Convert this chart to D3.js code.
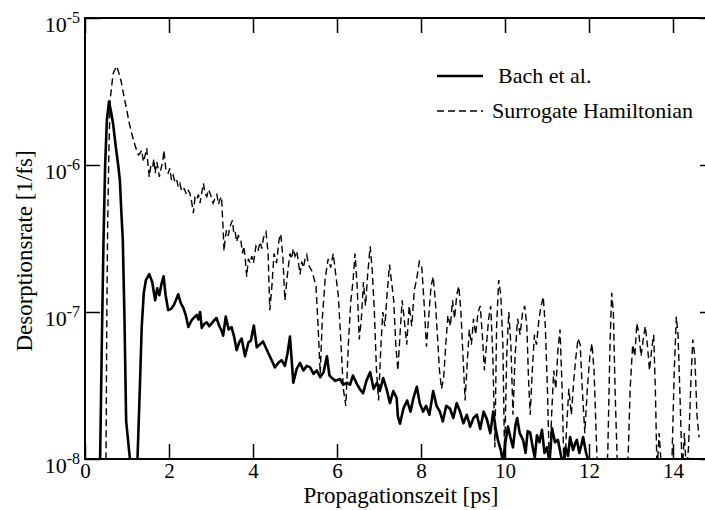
<!DOCTYPE html>
<html lang="en">
<head>
<meta charset="UTF-8">
<title>Desorptionsrate</title>
<script src="https://d3js.org/d3.v7.min.js"></script>
<style>
  body { margin: 0; background: #fff; }
  svg { display: block; }
  svg text { font-family: "Liberation Serif", "Times New Roman", serif; }
</style>
</head>
<body>
<svg></svg>
<script>
// Bach et al. (solid)
const bachTime = [0.36, 0.40, 0.44, 0.48, 0.52, 0.57, 0.62, 0.67, 0.73, 0.79, 0.83, 0.87, 0.90, 0.94, 0.98, 1.07, 1.15,
  1.25, 1.31, 1.35, 1.40, 1.45, 1.53, 1.60, 1.67, 1.72, 1.77, 1.82, 1.87, 1.92, 1.98, 2.05, 2.12, 2.22, 2.28, 2.34, 2.40,
  2.46, 2.54, 2.60, 2.66, 2.70, 2.74, 2.78, 2.84, 2.90, 2.96, 3.02, 3.08, 3.13, 3.20, 3.25, 3.29, 3.35, 3.42, 3.49, 3.55,
  3.61, 3.67, 3.73, 3.81, 3.89, 3.95, 4.02, 4.09, 4.16, 4.24, 4.32, 4.40, 4.46, 4.52, 4.60, 4.68, 4.76, 4.82, 4.88, 4.96,
  5.04, 5.12, 5.20, 5.28, 5.36, 5.44, 5.52, 5.60, 5.68, 5.76, 5.82, 5.88, 5.96, 6.07, 6.15, 6.24, 6.31, 6.38, 6.46, 6.54,
  6.62, 6.70, 6.79, 6.87, 6.95, 7.02, 7.10, 7.18, 7.26, 7.34, 7.42, 7.45, 7.50, 7.58, 7.67, 7.75, 7.82, 7.90, 7.97, 8.05,
  8.12, 8.20, 8.29, 8.37, 8.45, 8.52, 8.60, 8.69, 8.77, 8.85, 8.93, 9.01, 9.09, 9.17, 9.25, 9.33, 9.41, 9.49, 9.57, 9.65,
  9.72, 9.78, 9.83, 9.90, 9.95, 10.01, 10.07, 10.13, 10.19, 10.25, 10.29, 10.35, 10.43, 10.49, 10.54, 10.60, 10.66, 10.71,
  10.76, 10.82, 10.88, 10.94, 11.00, 11.06, 11.12, 11.19, 11.26, 11.32, 11.38, 11.44, 11.50, 11.55, 11.62, 11.68, 11.71,
  11.77, 11.82, 11.86, 11.93, 12.02];
const bachRate = [1.0e-8, 6e-8, 3.0e-7, 1.0e-6, 2.0e-6, 2.7e-6, 2.3e-6, 1.9e-6, 1.35e-6, 1.0e-6, 7.9e-7, 4.5e-7, 3.1e-7, 9e-8, 1.8e-8, 1.0e-8, 3e-9,
  1.0e-8, 3.3e-8, 7.9e-8, 1.35e-7, 1.65e-7, 1.81e-7, 1.6e-7, 1.2e-7, 1.45e-7, 1.3e-7, 1.55e-7, 1.75e-7, 1.3e-7, 1.03e-7, 1.05e-7, 1.12e-7, 1.32e-7, 1.15e-7, 1.07e-7, 9.5e-8,
  7.9e-8, 8.8e-8, 9.2e-8, 9.55e-8, 8.9e-8, 1.0e-7, 7.8e-8, 8.3e-8, 8.5e-8, 8.0e-8, 8.4e-8, 8.8e-8, 9.1e-8, 8.0e-8, 7.5e-8, 6.9e-8, 9.3e-8, 7.6e-8, 7.9e-8, 6.8e-8,
  5.5e-8, 6.2e-8, 6.6e-8, 5.0e-8, 6.2e-8, 6.4e-8, 8.1e-8, 5.75e-8, 6.0e-8, 6.3e-8, 5.6e-8, 5.0e-8, 4.6e-8, 4.2e-8, 4.5e-8, 4.7e-8, 4.3e-8, 5.2e-8, 6.8e-8, 3.3e-8,
  4.1e-8, 4.5e-8, 4.0e-8, 4.3e-8, 4.2e-8, 3.8e-8, 4.0e-8, 3.6e-8, 3.9e-8, 5.0e-8, 3.7e-8, 3.55e-8, 3.4e-8, 3.5e-8, 3.2e-8, 3.3e-8, 3.2e-8, 3.7e-8, 3.3e-8, 3.0e-8,
  2.8e-8, 3.4e-8, 3.9e-8, 3.0e-8, 3.3e-8, 2.9e-8, 3.55e-8, 3.0e-8, 2.4e-8, 2.9e-8, 2.6e-8, 1.95e-8, 1.74e-8, 2.2e-8, 2.5e-8, 2.1e-8, 2.6e-8, 3.1e-8, 2.4e-8, 2.1e-8,
  2.3e-8, 2.0e-8, 2.9e-8, 2.3e-8, 2.1e-8, 1.8e-8, 2.3e-8, 2.2e-8, 1.9e-8, 2.4e-8, 2.1e-8, 1.75e-8, 2.0e-8, 1.66e-8, 1.9e-8, 2.0e-8, 1.6e-8, 2.1e-8, 1.86e-8, 1.5e-8,
  2.1e-8, 1.6e-8, 1.35e-8, 1.15e-8, 9.5e-9, 1.3e-8, 1.66e-8, 1.4e-8, 1.2e-8, 1.7e-8, 1.9e-8, 1.5e-8, 1.35e-8, 1.1e-8, 1.55e-8, 1.51e-8, 1.2e-8, 1.02e-8,
  1.45e-8, 1.3e-8, 1.58e-8, 1.1e-8, 1.2e-8, 9.5e-9, 1.62e-8, 1.3e-8, 1.35e-8, 1.1e-8, 9.0e-9, 1.2e-8, 1.05e-8, 1.41e-8, 1.15e-8, 1.3e-8, 1.35e-8,
  1.1e-8, 1.25e-8, 1.41e-8, 1.1e-8, 9.0e-9];

// Surrogate Hamiltonian (dashed)
const shTime = [0.48, 0.50, 0.52, 0.54, 0.57, 0.60, 0.67, 0.75, 0.81, 0.87, 0.93, 0.99, 1.05, 1.11, 1.17, 1.23, 1.27, 1.31,
  1.35, 1.39, 1.43, 1.47, 1.50, 1.53, 1.57, 1.61, 1.64, 1.67, 1.71, 1.74, 1.77, 1.82, 1.85, 1.88, 1.93, 1.98, 2.02, 2.06,
  2.10, 2.14, 2.18, 2.22, 2.26, 2.30, 2.36, 2.42, 2.46, 2.50, 2.54, 2.58, 2.62, 2.66, 2.70, 2.74, 2.78, 2.82, 2.86, 2.90,
  2.94, 2.98, 3.02, 3.05, 3.10, 3.14, 3.18, 3.21, 3.25, 3.29, 3.31, 3.34, 3.37, 3.41, 3.45, 3.51, 3.54, 3.57, 3.61, 3.65,
  3.71, 3.75, 3.78, 3.81, 3.85, 3.89, 3.93, 3.97, 4.01, 4.07, 4.12, 4.17, 4.21, 4.25, 4.31, 4.36, 4.40, 4.45, 4.50, 4.56,
  4.62, 4.66, 4.71, 4.76, 4.82, 4.88, 4.92, 4.96, 5.00, 5.04, 5.08, 5.12, 5.16, 5.20, 5.24, 5.28, 5.32, 5.36, 5.40, 5.44,
  5.50, 5.55, 5.60, 5.65, 5.72, 5.79, 5.85, 5.91, 5.97, 6.03, 6.09, 6.15, 6.21, 6.27, 6.33, 6.38, 6.43, 6.48, 6.53, 6.58,
  6.63, 6.68, 6.73, 6.79, 6.84, 6.89, 6.94, 6.99, 7.04, 7.09, 7.14, 7.19, 7.25, 7.30, 7.35, 7.40, 7.45, 7.50, 7.55, 7.60,
  7.66, 7.72, 7.78, 7.84, 7.90, 7.96, 8.02, 8.07, 8.13, 8.18, 8.24, 8.29, 8.34, 8.39, 8.44, 8.49, 8.54, 8.59, 8.64, 8.70,
  8.75, 8.80, 8.85, 8.90, 8.95, 9.00, 9.05, 9.10, 9.15, 9.20, 9.25, 9.30, 9.36, 9.41, 9.46, 9.51, 9.56, 9.61, 9.66, 9.71,
  9.76, 9.80, 9.85, 9.90, 9.95, 9.99, 10.04, 10.09, 10.14, 10.19, 10.24, 10.30, 10.36, 10.42, 10.47, 10.52, 10.56, 10.60,
  10.65, 10.70, 10.75, 10.81, 10.86, 10.91, 10.96, 11.01, 11.06, 11.11, 11.16, 11.21, 11.26, 11.31, 11.36, 11.41, 11.46,
  11.52, 11.58, 11.64, 11.69, 11.74, 11.79, 11.84, 11.90, 11.96, 12.02, 12.07, 12.12, 12.17, 12.22, 12.28, 12.33, 12.40,
  12.45, 12.50, 12.54, 12.58, 12.62, 12.67, 12.73, 12.80, 12.88, 12.93, 12.98, 13.04, 13.09, 13.14, 13.19, 13.24, 13.29,
  13.34, 13.39, 13.44, 13.49, 13.54, 13.58, 13.62, 13.67, 13.72, 13.77, 13.85, 13.92, 13.98, 14.03, 14.08, 14.12, 14.17,
  14.22, 14.27, 14.32, 14.37, 14.42, 14.47, 14.52, 14.57, 14.62];
const shRate = [5e-9, 1.0e-8, 1.0e-7, 4.0e-7, 1.3e-6, 2.8e-6, 4.2e-6, 4.7e-6, 4.2e-6, 3.6e-6, 2.9e-6, 2.4e-6, 1.95e-6, 1.65e-6, 1.42e-6, 1.26e-6, 1.17e-6, 1.2e-6,
  1.26e-6, 1.05e-6, 1.16e-6, 1.3e-6, 1.0e-6, 8.3e-7, 1.0e-6, 9.7e-7, 1.1e-6, 8.8e-7, 1.05e-6, 9.5e-7, 8.3e-7, 9.7e-7, 1.05e-6, 1.26e-6, 9.0e-7, 8.8e-7, 9.5e-7, 7.9e-7,
  8.5e-7, 7.7e-7, 8.0e-7, 7.1e-7, 7.5e-7, 6.6e-7, 6.9e-7, 6.3e-7, 6.7e-7, 6.4e-7, 5.6e-7, 4.7e-7, 6.0e-7, 5.8e-7, 6.3e-7, 5.5e-7, 6.5e-7, 7.5e-7, 6.4e-7, 6.1e-7,
  6.8e-7, 6.4e-7, 5.9e-7, 5.5e-7, 6.0e-7, 6.3e-7, 5.4e-7, 5.8e-7, 6.1e-7, 3.6e-7, 2.6e-7, 3.2e-7, 3.6e-7, 3.3e-7, 3.8e-7, 4.2e-7, 3.5e-7, 3.6e-7, 3.0e-7, 3.3e-7,
  3.1e-7, 2.5e-7, 2.8e-7, 2.4e-7, 1.74e-7, 2.3e-7, 2.15e-7, 2.4e-7, 2.15e-7, 2.8e-7, 2.6e-7, 3.0e-7, 2.7e-7, 3.2e-7, 3.5e-7, 2.5e-7, 1.03e-7, 1.5e-7, 2.5e-7, 2.15e-7,
  3.1e-7, 3.4e-7, 2.4e-7, 1.2e-7, 1.8e-7, 2.5e-7, 2.3e-7, 2.7e-7, 2.4e-7, 2.6e-7, 2.2e-7, 1.8e-7, 2.2e-7, 2.0e-7, 2.3e-7, 2.45e-7, 2.1e-7, 2.0e-7, 1.9e-7, 1.74e-7,
  1.5e-7, 8.0e-8, 3.8e-8, 9.0e-8, 1.7e-7, 2.3e-7, 2.0e-7, 2.5e-7, 1.8e-7, 1.3e-7, 6.5e-8, 3.0e-8, 2.3e-8, 6.0e-8, 1.2e-7, 1.6e-7, 2.5e-7, 1.5e-7, 6.5e-8, 9.0e-8,
  1.6e-7, 1.1e-7, 1.8e-7, 2.8e-7, 1.9e-7, 1.0e-7, 4.0e-8, 2.5e-8, 5.5e-8, 1.0e-7, 8.0e-8, 1.3e-7, 2.1e-7, 1.6e-7, 1.2e-7, 6.0e-8, 4.0e-8, 7.0e-8, 1.2e-7, 9.0e-8,
  6.0e-8, 1.1e-7, 8.0e-8, 1.4e-7, 1.7e-7, 2.2e-7, 2.0e-7, 1.2e-7, 5.8e-8, 9.0e-8, 1.5e-7, 1.74e-7, 1.2e-7, 7.0e-8, 4.0e-8, 3.0e-8, 3.6e-8, 6.0e-8, 9.5e-8, 8.0e-8,
  1.2e-7, 9.0e-8, 1.3e-7, 1.5e-7, 1.0e-7, 5.0e-8, 2.5e-8, 4.5e-8, 7.6e-8, 6.0e-8, 9.0e-8, 7.0e-8, 1.0e-7, 1.1e-7, 7.0e-8, 4.0e-8, 6.0e-8, 9.0e-8, 1.1e-7, 5.0e-8,
  1.2e-8, 8.0e-8, 1.65e-7, 1.3e-7, 6.0e-8, 1.0e-8, 5.0e-8, 1.0e-7, 6.0e-8, 2.0e-8, 5.0e-8, 9.0e-8, 7.0e-8, 1.0e-7, 1.1e-7, 8.0e-8, 3.5e-8, 2.0e-8,
  4.0e-8, 7.0e-8, 6.0e-8, 9.0e-8, 1.1e-7, 1.27e-7, 8.0e-8, 3.0e-8, 8.0e-9, 2.0e-8, 4.0e-8, 3.0e-8, 5.5e-8, 7.6e-8, 3.0e-8, 7.0e-9, 1.5e-8,
  3.0e-8, 2.0e-8, 3.5e-8, 5.0e-8, 6.6e-8, 6.0e-8, 3.0e-8, 1.5e-8, 3.0e-8, 5.0e-8, 6.1e-8, 4.0e-8, 1.5e-8, 6.0e-9, 1.0e-8, 3.0e-9, 5.0e-9,
  1.2e-8, 6.0e-8, 1.35e-7, 1.0e-7, 3.0e-8, 1.0e-8, 4.0e-9, 3.0e-9, 4.0e-9, 1.0e-8, 3.0e-8, 6.0e-8, 5.0e-8, 8.4e-8, 7.0e-8, 5.0e-8, 6.5e-8,
  8.0e-8, 6.0e-8, 4.0e-8, 5.5e-8, 7.0e-8, 3.0e-8, 8.0e-9, 1.5e-8, 9.0e-9, 4.0e-9, 3.0e-9, 5.0e-9, 1.1e-8, 4.0e-8, 9.3e-8, 7.0e-8, 2.5e-8,
  8.0e-9, 1.5e-8, 8.0e-9, 1.2e-8, 3.0e-8, 6.5e-8, 5.0e-8, 2.0e-8, 1.4e-8];

const xTicks = [0, 2, 4, 6, 8, 10, 12, 14];
const yTicks = [1e-8, 1e-7, 1e-6, 1e-5];
const seriesNames = ["Bach et al.", "Surrogate Hamiltonian"];

const serif = "Liberation Serif, Times New Roman, serif";
const width = 705, height = 510;
const plotLeft = 85, plotTop = 18, plotRight = 715, plotBottom = 459;

const svg = d3.select("svg").attr("width", width).attr("height", height)
  .attr("font-family", serif);

const x = d3.scaleLinear().domain([0, 15]).range([plotLeft, plotRight]);
const y = d3.scaleLog().domain([1e-8, 1e-5]).range([plotBottom, plotTop]);

svg.append("clipPath").attr("id", "plot")
  .append("rect")
  .attr("x", plotLeft).attr("y", plotTop)
  .attr("width", plotRight - plotLeft).attr("height", plotBottom - plotTop);

// curves
const line = d3.line().x(d => x(d[0])).y(d => y(d[1]));
const bach = bachTime.map((t, i) => [t, bachRate[i]]);
const sh = shTime.map((t, i) => [t, shRate[i]]);

const lines = svg.append("g").attr("clip-path", "url(#plot)");
lines.append("path").datum(sh)
  .attr("d", line)
  .attr("fill", "none").attr("stroke", "#000")
  .attr("stroke-width", 1.4).attr("stroke-dasharray", "7,4");
lines.append("path").datum(bach)
  .attr("d", line)
  .attr("fill", "none").attr("stroke", "#000")
  .attr("stroke-width", 2.6).attr("stroke-linejoin", "round");

// axes (ticks point inward)
const gx = svg.append("g").attr("transform", `translate(0,${plotBottom})`)
  .call(d3.axisBottom(x).tickValues(xTicks).tickSize(-15).tickSizeOuter(0).tickPadding(4));
const gxTop = svg.append("g").attr("transform", `translate(0,${plotTop})`)
  .call(d3.axisTop(x).tickValues(xTicks).tickSize(-15).tickSizeOuter(0).tickFormat(""));
const gy = svg.append("g").attr("transform", `translate(${plotLeft},0)`)
  .call(d3.axisLeft(y).tickValues(yTicks).tickSize(-15).tickSizeOuter(0).tickPadding(5));
const gyRight = svg.append("g").attr("transform", `translate(${plotRight},0)`)
  .call(d3.axisRight(y).tickValues(yTicks).tickSize(-15).tickSizeOuter(0).tickFormat(""));

[gx, gxTop, gy, gyRight].forEach(g => {
  g.attr("font-family", serif);
  g.select(".domain").remove();
  g.selectAll(".tick line").attr("stroke", "#000").attr("stroke-width", 1.5);
});

gx.selectAll(".tick text")
  .attr("font-size", 21).attr("fill", "#000");

gy.selectAll(".tick text").each(function (d) {
  const t = d3.select(this).text("")
    .attr("dy", 13).attr("font-size", 22).attr("fill", "#000");
  t.append("tspan").text("10");
  t.append("tspan").attr("dy", -9).attr("font-size", 16).text(Math.round(Math.log10(d)));
});

// frame
svg.append("rect")
  .attr("x", plotLeft).attr("y", plotTop)
  .attr("width", plotRight - plotLeft).attr("height", plotBottom - plotTop)
  .attr("fill", "none").attr("stroke", "#000").attr("stroke-width", 2);

// axis titles
svg.append("text")
  .attr("x", 401).attr("y", 503)
  .attr("text-anchor", "middle").attr("font-size", 23)
  .text("Propagationszeit [ps]");
svg.append("text")
  .attr("transform", "translate(32,251) rotate(-90)")
  .attr("text-anchor", "middle").attr("font-size", 23)
  .text("Desorptionsrate [1/fs]");

// legend
const legend = svg.append("g");
const legendRows = [
  { name: seriesNames[0], y: 76, width: 2.6, dash: null },
  { name: seriesNames[1], y: 111, width: 1.4, dash: "7,4" }
];
legendRows.forEach((r, i) => {
  legend.append("line")
    .attr("x1", 437).attr("x2", 483)
    .attr("y1", r.y).attr("y2", r.y)
    .attr("stroke", "#000").attr("stroke-width", r.width)
    .attr("stroke-dasharray", r.dash);
  legend.append("text")
    .attr("x", i === 0 ? 498 : 492).attr("y", r.y + 7)
    .attr("font-size", 22)
    .text(r.name);
});
</script>
</body>
</html>
